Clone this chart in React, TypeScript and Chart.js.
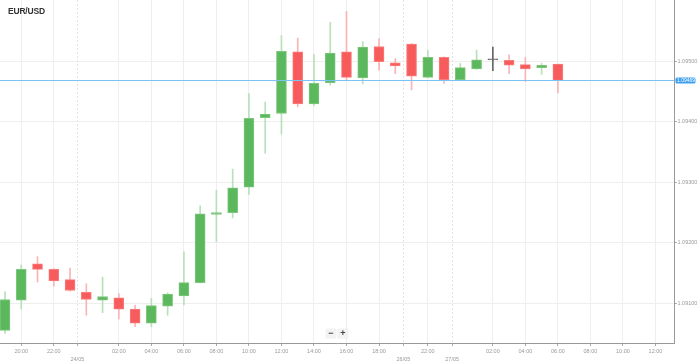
import React, { useEffect, useRef } from 'react';
import { Chart, registerables } from 'chart.js';

Chart.register(...registerables);

const symbol = 'EUR/USD';

const opens = [
  1.09055, 1.09105, 1.09165, 1.09156, 1.09139, 1.09118, 1.09105, 1.09109, 1.09090, 1.09067,
  1.09095, 1.09112, 1.09134, 1.09247, 1.09250, 1.09292, 1.09407, 1.09414, 1.09516, 1.09430,
  1.09465, 1.09516, 1.09473, 1.09525, 1.09498, 1.09529, 1.09474, 1.09507, 1.09470, 1.09488,
  1.09503, 1.09502, 1.09495, 1.09490, 1.09496,
];
const highs = [
  1.09119, 1.09163, 1.09177, 1.09157, 1.09158, 1.09132, 1.09143, 1.09116, 1.09097, 1.09108,
  1.09117, 1.09185, 1.09261, 1.09287, 1.09322, 1.09447, 1.09433, 1.09543, 1.09539, 1.09512,
  1.09565, 1.09583, 1.09533, 1.09538, 1.09505, 1.09530, 1.09519, 1.09508, 1.09497, 1.09519,
  1.09524, 1.09511, 1.09507, 1.09497, 1.09496,
];
const lows = [
  1.09050, 1.09090, 1.09135, 1.09128, 1.09120, 1.09080, 1.09084, 1.09074, 1.09061, 1.09061,
  1.09080, 1.09097, 1.09133, 1.09202, 1.09241, 1.09280, 1.09348, 1.09380, 1.09425, 1.09427,
  1.09461, 1.09470, 1.09463, 1.09486, 1.09480, 1.09453, 1.09473, 1.09464, 1.09469, 1.09487,
  1.09485, 1.09480, 1.09467, 1.09479, 1.09448,
];
const closes = [
  1.09106, 1.09156, 1.09156, 1.09137, 1.09121, 1.09106, 1.09111, 1.09090, 1.09067, 1.09096,
  1.09115, 1.09134, 1.09248, 1.09250, 1.09291, 1.09406, 1.09413, 1.09517, 1.09430, 1.09464,
  1.09514, 1.09474, 1.09524, 1.09500, 1.09493, 1.09476, 1.09507, 1.09470, 1.09490, 1.09503,
  1.09503, 1.09494, 1.09488, 1.09494, 1.09469,
];

// x tick positions are in candle-index units
const xTickPositions = [1, 3, 4.45, 7, 9, 11, 13, 15, 17, 19, 21, 23, 24.5, 26, 27.5, 30, 32, 34, 36, 38, 40];
const xTickLabels = [
  '20:00', '22:00', '24/05', '02:00', '04:00', '06:00', '08:00', '10:00', '12:00', '14:00',
  '16:00', '18:00', '26/05', '22:00', '27/05', '02:00', '04:00', '06:00', '08:00', '10:00', '12:00',
];
const yTickValues = [1.091, 1.092, 1.093, 1.094, 1.095];

const X_MIN = -0.3075;
const X_MAX = 41.14;
const Y_MIN = 1.09034;
const Y_MAX = 1.09602;

const GREEN = '#5cb85c';
const GREEN_EDGE = '#7ec77e';
const GREEN_WICK = '#b9e0b9';
const RED = '#f75b5b';
const RED_EDGE = '#f87e7e';
const RED_WICK = '#f9b5b5';
const DOJI = '#666666';
const FONT = "'Liberation Sans', Arial, sans-serif";

const isDay = (i: number) => xTickLabels[i] && xTickLabels[i].includes('/');

const priceLinePlugin = {
  id: 'priceLine',
  afterDatasetsDraw(chart: any) {
    const { ctx, chartArea, scales } = chart;
    const v = closes[closes.length - 1];
    const py = Math.round(scales.y.getPixelForValue(v)) + 0.5;
    ctx.save();
    ctx.strokeStyle = '#7cc3f5';
    ctx.lineWidth = 1;
    ctx.beginPath();
    ctx.moveTo(chartArea.left, py);
    ctx.lineTo(chartArea.right, py);
    ctx.stroke();
    const bx = chartArea.right + 1.5;
    const bw = 20;
    const bh = 6;
    const by = py - bh / 2;
    ctx.fillStyle = '#3d9ff0';
    ctx.beginPath();
    if (ctx.roundRect) ctx.roundRect(bx, by, bw, bh, 1.5);
    else ctx.rect(bx, by, bw, bh);
    ctx.fill();
    ctx.fillStyle = '#ffffff';
    ctx.font = `5px ${FONT}`;
    ctx.textBaseline = 'middle';
    ctx.textAlign = 'left';
    ctx.fillText(v.toFixed(5), bx + 1.5, py + 0.3);
    ctx.restore();
  },
};

export default function App() {
  const ref = useRef<HTMLCanvasElement>(null);

  useEffect(() => {
    document.body.style.margin = '0';
    const idx = opens.map((_, i) => i);
    const dir = idx.map((i) => (closes[i] > opens[i] ? 1 : closes[i] < opens[i] ? -1 : 0));
    const bodyColor = dir.map((d) => (d > 0 ? GREEN : d < 0 ? RED : DOJI));
    const edgeColor = dir.map((d) => (d > 0 ? GREEN_EDGE : d < 0 ? RED_EDGE : DOJI));
    const wickColor = dir.map((d) => (d > 0 ? GREEN_WICK : d < 0 ? RED_WICK : DOJI));

    const chart = new Chart(ref.current as HTMLCanvasElement, {
      type: 'bar',
      data: {
        datasets: [
          {
            label: 'body',
            data: idx.map((i) => ({ x: i, y: [opens[i], closes[i]] })) as any,
            backgroundColor: bodyColor,
            borderColor: edgeColor,
            borderWidth: 1,
            borderSkipped: false,
            barThickness: 10,
            minBarLength: 1,
            grouped: false,
            order: 0,
          } as any,
          {
            label: 'wick',
            data: idx.map((i) => ({ x: i, y: [lows[i], highs[i]] })) as any,
            backgroundColor: wickColor,
            borderWidth: 0,
            barThickness: 1,
            grouped: false,
            order: 1,
          } as any,
        ],
      },
      options: {
        responsive: false,
        animation: false,
        maintainAspectRatio: false,
        layout: { padding: 0 },
        plugins: { legend: { display: false }, tooltip: { enabled: false }, title: { display: false } },
        scales: {
          x: {
            type: 'linear',
            min: X_MIN,
            max: X_MAX,
            offset: false,
            bounds: 'data',
            afterBuildTicks: (s: any) => {
              s.ticks = xTickPositions.map((v) => ({ value: v }));
            },
            afterFit: (s: any) => {
              s.height = 19;
              s.paddingLeft = 0;
              s.paddingRight = 0;
            },
            ticks: {
              autoSkip: false,
              maxRotation: 0,
              minRotation: 0,
              padding: 1,
              color: '#999999',
              font: { size: 5.5, family: FONT, lineHeight: 1.55 },
              callback: (_v: any, i: number) => (isDay(i) ? ['', xTickLabels[i]] : xTickLabels[i]),
            },
            grid: {
              offset: false,
              color: (c: any) => (c.tick && isDay(c.index) ? '#e2e2e2' : '#eeeeee'),
              lineWidth: 1,
              drawTicks: true,
              tickLength: 3,
              tickColor: '#aaaaaa',
            },
            border: {
              display: true,
              color: '#999999',
              dash: (c: any) => (c.tick && isDay(c.index) ? [2, 2] : []),
            },
          } as any,
          y: {
            type: 'linear',
            position: 'right',
            min: Y_MIN,
            max: Y_MAX,
            bounds: 'data',
            afterBuildTicks: (s: any) => {
              s.ticks = yTickValues.map((v) => ({ value: v }));
            },
            afterFit: (s: any) => {
              s.width = 25;
              s.paddingTop = 0;
              s.paddingBottom = 0;
            },
            ticks: {
              padding: 0.5,
              color: '#999999',
              font: { size: 5.5, family: FONT },
              callback: (v: any) => Number(v).toFixed(5),
            },
            grid: { color: '#eeeeee', lineWidth: 1, tickLength: 3, tickColor: '#aaaaaa' },
            border: { display: true, color: '#999999' },
          } as any,
        },
      },
      plugins: [priceLinePlugin],
    });
    return () => chart.destroy();
  }, []);

  const btn: React.CSSProperties = {
    position: 'absolute',
    top: 329,
    width: 10,
    height: 9,
    background: '#f3f3f3',
    boxShadow: '0 0 1px rgba(0,0,0,0.25)',
    borderRadius: 1,
    color: '#444',
    fontFamily: FONT,
    fontSize: 9,
    lineHeight: '9px',
    textAlign: 'center',
    fontWeight: 'bold',
  };

  return (
    <div style={{ position: 'relative', width: 699, height: 362, background: '#fff', overflow: 'hidden' }}>
      <canvas ref={ref} width={699} height={362} style={{ display: 'block' }} />
      <div
        style={{
          position: 'absolute',
          left: 8,
          top: 6,
          fontFamily: FONT,
          fontWeight: 'bold',
          fontSize: 8.5,
          color: '#333',
          letterSpacing: -0.2,
        }}
      >
        {symbol}
      </div>
      <div style={{ ...btn, left: 326 }}>−</div>
      <div style={{ ...btn, left: 338 }}>+</div>
    </div>
  );
}
